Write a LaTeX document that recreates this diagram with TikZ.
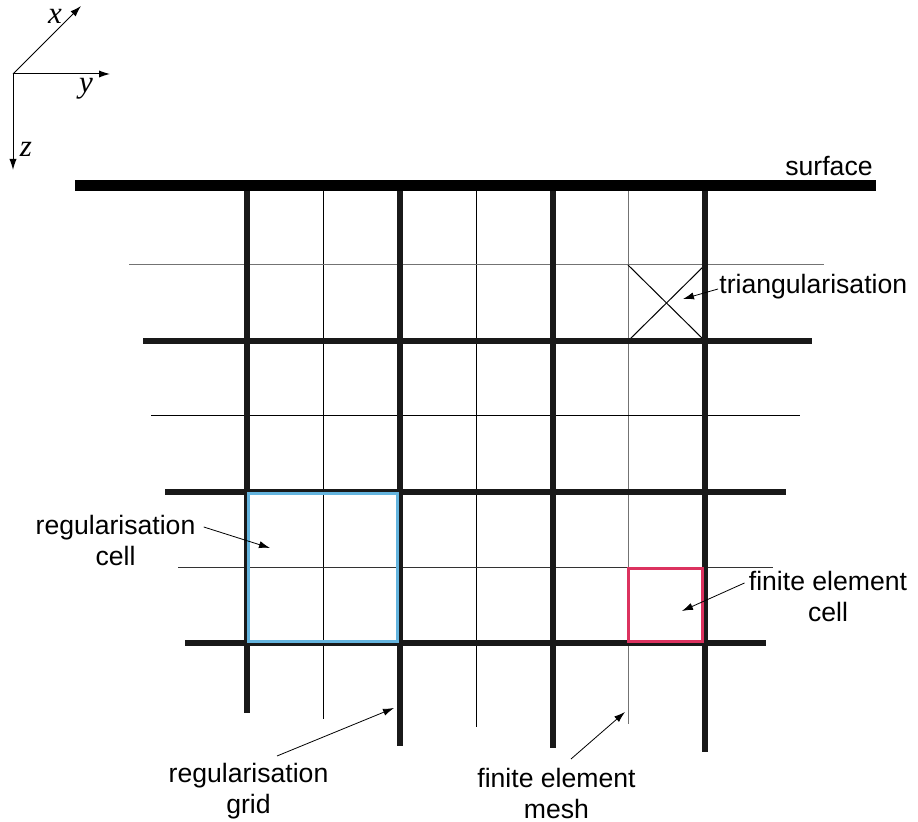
\documentclass[tikz,border=0pt]{standalone}
\usepackage{fontspec}
\setmainfont{Liberation Sans}
\newfontfamily\axisfont{Liberation Serif}
\usetikzlibrary{arrows.meta,positioning,calc}
\definecolor{regblue}{RGB}{100,180,222}
\definecolor{fered}{RGB}{220,50,95}
\tikzset{
    surfline/.style={line width=5.5pt},
    coarse/.style={line width=2.6pt, black!90},
    fine/.style={line width=0.5pt},
    pointer/.style={line width=0.4pt, -{Latex[length=5.5pt,width=3.6pt]}},
    lbl/.style={inner sep=0pt, align=center, font=\fontsize{13.3}{15.5}\selectfont},
    axislbl/.style={inner sep=0pt, font=\fontsize{15.5}{18}\axisfont\itshape}
}

\begin{document}
\begin{tikzpicture}[x=0.5pt, y=-0.5pt]
            \useasboundingbox (0,0) rectangle (918,822);

            % Axes
            \coordinate (origin) at (13,74);
            \coordinate (xtip) at (81,6);
            \coordinate (ytip) at (110,74);
            \coordinate (ztip) at (13,170);
            \draw[pointer, line width=0.5pt] (origin) -- (xtip);
            \draw[pointer, line width=0.5pt] (origin) -- (ytip);
            \draw[pointer, line width=0.5pt] (origin) -- (ztip);
            \node[axislbl, anchor=base] (xlab) at (55,24) {x};
            \node[axislbl, anchor=base] (ylab) at (86,93) {y};
            \node[axislbl, anchor=base] (zlab) at (26,157) {z};

            % Fine mesh
            \foreach \x/\yend/\col in {323/719/black, 476/727/black, 628/724/black!55} {
                \draw[fine, \col] (\x,186) -- (\x,\yend);
            }
            \foreach \y/\xa/\xb/\col in {265/129/824/black!55, 416/151/800/black, 568/178/773/black!80} {
                \draw[fine, \col] (\xa,\y) -- (\xb,\y);
            }
            \draw[fine] (628,265) -- (705,341);
            \draw[fine] (628,341) -- (705,265);

            % Regularisation grid
            \foreach \x/\yend in {247/713, 400/746, 553/748, 705/752} {
                \draw[coarse] (\x,186) -- (\x,\yend);
            }
            \foreach \y/\xa/\xb in {341/143/812, 492/165/786, 643/185/766} {
                \draw[coarse] (\xa,\y) -- (\xb,\y);
            }
            \draw[surfline] (75,186) -- (876,186);

            % Cells
            \draw[regblue, line width=1.5pt] (248.5,493.5) rectangle (397,642);
            \draw[fered, line width=1.5pt] (628.5,569) rectangle (702,642);

            % Labels
            \node[lbl, anchor=base east] (surface) at (873,176) {surface};
            \node[lbl, anchor=base west] (tri) at (719,294) {triangularisation};
            \node[lbl, anchor=north] (regcell) at (115.5,515) {regularisation\\cell};
            \node[lbl, anchor=north] (fecell) at (828,571) {finite element\\cell};
            \node[lbl, anchor=north] (reggrid) at (248.5,763) {regularisation\\grid};
            \node[lbl, anchor=north] (femesh) at (556.5,768) {finite element\\mesh};

            % Pointers
            \coordinate (tritip) at (683,299);
            \coordinate (regcelltip) at (270,548);
            \coordinate (fecelltip) at (682,611);
            \coordinate (reggridtip) at (394,708);
            \coordinate (femeshtip) at (625,712);
            \draw[pointer] ([shift={(-1,-5)}]tri.base west) -- (tritip);
            \draw[pointer] ([shift={(8,12)}]regcell.north east) -- (regcelltip);
            \draw[pointer] ([shift={(-4,12)}]fecell.north west) -- (fecelltip);
            \draw[pointer] ([shift={(28.5,-7)}]reggrid.north) -- (reggridtip);
            \draw[pointer] ([shift={(14.5,-9)}]femesh.north) -- (femeshtip);
\end{tikzpicture}
\end{document}
